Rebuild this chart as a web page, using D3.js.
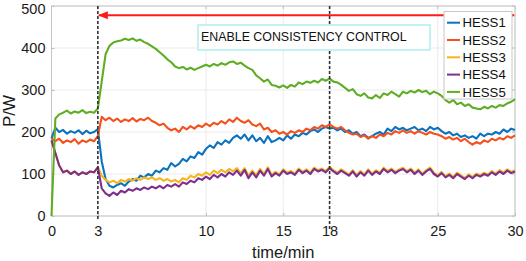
<!DOCTYPE html>
<html><head><meta charset="utf-8">
<script src="https://cdn.jsdelivr.net/npm/d3@7"></script>
<style>
html,body{margin:0;padding:0;background:#fff;}
svg{display:block;font-family:"Liberation Sans",Arial,sans-serif;}
</style></head>
<body><svg id="c" width="526" height="261"></svg>
<script>
// ---- data ----
const tStep = 0.25; // minutes between samples, t = 0 ... 30
const seriesNames = ["HESS1","HESS2","HESS3","HESS4","HESS5"];
const seriesColors = ["#0b72bf","#f4511c","#f6b51a","#7e2f8e","#5ead22"];
const hess1 = [185,210,200,205,196,202,198,204,195,203,197,200,207,
130,88,72,68,74,78,72,82,88,84,
96,92,100,96,108,104,114,110,126,118,
124,136,130,142,138,152,146,160,168,162,
176,170,180,174,186,192,184,194,180,192,
178,186,174,190,176,180,186,180,192,184,
194,190,198,194,202,206,200,208,212,208,
210,204,208,200,204,196,200,190,194,186,
190,196,200,194,208,202,212,206,210,204,
208,212,204,208,202,212,206,210,202,196,
200,192,196,188,192,186,190,184,196,190,
196,194,200,196,206,200,208,205];
const hess2 = [185,178,184,174,180,176,183,172,180,176,182,178,190,
236,228,234,226,232,224,230,226,233,225,
231,228,234,226,222,216,220,210,204,208,
200,212,206,214,208,216,212,220,214,222,
218,226,220,230,224,234,226,222,228,218,
214,220,206,210,200,204,196,200,194,202,
198,204,200,208,204,212,208,216,212,218,
212,208,212,204,198,194,196,188,192,184,
190,186,194,190,198,194,202,198,204,198,
202,196,202,198,194,200,196,194,190,184,
188,182,186,178,184,176,170,176,172,180,
176,184,180,186,182,190,186,192];
const hess3 = [180,150,120,104,108,100,106,98,104,100,106,104,116,
96,86,80,84,78,86,82,88,84,90,
86,92,88,92,86,90,84,88,82,86,
80,90,86,96,92,100,96,104,98,108,
102,110,104,112,106,114,102,114,96,108,
98,112,100,116,98,
105,99,111,103,107,101,113,105,111,103,115,109,113,107,117,109,103,111,105,99,
109,97,107,99,111,101,109,103,115,107,113,105,111,115,107,113,103,111,101,109,
115,103,97,105,95,101,93,103,97,91,99,93,101,97,103,99,107,101,109,103,111,105,109];
const hess4 = [180,150,120,104,108,100,106,98,104,100,106,104,116,
66,54,48,56,50,60,56,64,60,66,
62,68,64,70,66,72,66,74,70,76,
70,80,76,84,80,90,86,94,88,98,
92,100,94,104,98,108,96,110,90,104,
92,108,96,112,94,
102,96,108,100,104,98,110,102,108,100,112,106,110,104,114,106,100,108,102,96,
106,94,104,96,108,98,106,100,112,104,110,102,108,112,104,110,100,108,98,106,
112,100,94,102,92,98,90,100,94,88,96,90,98,94,100,96,104,98,106,100,108,102,106];
const hess5 = [0,232,242,246,251,244,249,246,252,245,248,246,256,
320,385,405,413,416,418,422,419,423,417,
420,414,410,404,398,390,382,373,366,356,
352,355,349,353,348,352,356,360,356,362,
358,364,360,366,368,362,365,358,352,348,
335,328,320,325,312,310,306,311,305,312,
308,318,314,320,317,322,318,326,322,327,
320,318,312,305,298,302,290,286,292,282,
280,288,281,292,288,296,290,284,296,292,
298,294,300,295,298,290,296,292,286,276,
270,276,266,270,262,266,258,256,254,260,
256,262,258,264,262,268,272,278];
const xTicks = [0,3,10,15,18,25,30];
const yTicks = [0,100,200,300,400,500];
const markerTimes = [3,18];
const controlSpan = [3,30];
const controlLevel = 478;
const annotation = "ENABLE CONSISTENCY CONTROL";
const xLabel = "time/min", yLabel = "P/W";

// ---- drawing ----
const allSeries = [hess1,hess2,hess3,hess4,hess5];
const svg = d3.select("#c");
const L=51.5, R=515, T=6, B=216;
const x = d3.scaleLinear().domain([0,30]).range([L,R]);
const y = d3.scaleLinear().domain([0,500]).range([B,T]);

// grid
svg.append("g").selectAll("line").data(xTicks).join("line")
  .attr("x1",d=>x(d)).attr("x2",d=>x(d)).attr("y1",T).attr("y2",B)
  .attr("stroke","#ebebeb").attr("stroke-width",1);
svg.append("g").selectAll("line").data(yTicks).join("line")
  .attr("x1",L).attr("x2",R).attr("y1",d=>y(d)).attr("y2",d=>y(d))
  .attr("stroke","#ebebeb").attr("stroke-width",1);

// axes
const gx = svg.append("g").attr("transform",`translate(0,${B})`)
  .call(d3.axisBottom(x).tickValues(xTicks).tickSize(-3).tickPadding(10).tickFormat(d3.format("d")));
const gy = svg.append("g").attr("transform",`translate(${L},0)`)
  .call(d3.axisLeft(y).tickValues(yTicks).tickSize(-3).tickPadding(6).tickFormat(d3.format("d")));
[gx,gy].forEach(g=>{
  g.select(".domain").remove();
  g.selectAll(".tick line").attr("stroke","#bdbdbd");
  g.selectAll(".tick text").attr("font-size","14.5px").attr("fill","#1a1a1a")
   .attr("font-family","'Liberation Sans',Arial,sans-serif");
});
gy.selectAll(".tick text").filter(d=>d===500).attr("dy","0.5em");
// top/right ticks
svg.append("g").selectAll("line").data(xTicks).join("line")
  .attr("x1",d=>x(d)).attr("x2",d=>x(d)).attr("y1",T).attr("y2",T+3).attr("stroke","#bdbdbd");
svg.append("g").selectAll("line").data(yTicks).join("line")
  .attr("x1",R-3).attr("x2",R).attr("y1",d=>y(d)).attr("y2",d=>y(d)).attr("stroke","#bdbdbd");
// frame
svg.append("rect").attr("x",L).attr("y",T).attr("width",R-L).attr("height",B-T)
  .attr("fill","none").attr("stroke","#c4c4c4").attr("stroke-width",1);

// lines
const line = d3.line().x((d,i)=>x(i*tStep)).y(d=>y(d));
svg.append("g").selectAll("path").data(allSeries).join("path")
  .attr("d",d=>line(d)).attr("fill","none")
  .attr("stroke",(d,i)=>seriesColors[i]).attr("stroke-width",2.1)
  .attr("stroke-linejoin","round");

// dashed markers
svg.append("g").selectAll("line").data(markerTimes).join("line")
  .attr("x1",d=>x(d)).attr("x2",d=>x(d)).attr("y1",T)
  .attr("y2",(d,i)=> i===0 ? B+5 : B+14)
  .attr("stroke","#333").attr("stroke-width",1.6).attr("stroke-dasharray","3,2");

// red double arrow
const defs = svg.append("defs");
defs.append("marker").attr("id","ah").attr("viewBox","0 0 10 10").attr("refX",9).attr("refY",5)
  .attr("markerWidth",5).attr("markerHeight",5).attr("orient","auto-start-reverse")
  .append("path").attr("d","M0,1 L10,5 L0,9 z").attr("fill","#ff1a1a");
svg.append("line").attr("x1",x(controlSpan[0])+1).attr("x2",x(controlSpan[1])-1)
  .attr("y1",y(controlLevel)).attr("y2",y(controlLevel))
  .attr("stroke","#ff1a1a").attr("stroke-width",2)
  .attr("marker-start","url(#ah)").attr("marker-end","url(#ah)");

// annotation box
svg.append("rect").attr("x",198).attr("y",25).attr("width",232).attr("height",25)
  .attr("fill","#fff").attr("stroke","#aeeeee").attr("stroke-width",1.5);
svg.append("text").attr("x",201).attr("y",40.5).attr("font-size","12.4px").attr("fill","#111")
  .text(annotation);

// legend
const lg = svg.append("g");
lg.append("rect").attr("x",444).attr("y",11.5).attr("width",68).attr("height",87.5)
  .attr("fill","#fff").attr("stroke","#c8c8c8").attr("stroke-width",1);
const rows = lg.selectAll("g").data(seriesNames).join("g")
  .attr("transform",(d,i)=>`translate(0,${22.7+i*17.3})`);
rows.append("line").attr("x1",447).attr("x2",460).attr("y1",0).attr("y2",0)
  .attr("stroke",(d,i)=>seriesColors[i]).attr("stroke-width",2);
rows.append("text").attr("x",462.5).attr("y",4.7).attr("font-size","13.2px").attr("fill","#111").text(d=>d);

// axis labels
svg.append("text").attr("x",x(15)).attr("y",258).attr("text-anchor","middle")
  .attr("font-size","16.5px").attr("fill","#1a1a1a").text(xLabel);
svg.append("text").attr("transform",`translate(15,${(T+B)/2}) rotate(-90)`)
  .attr("text-anchor","middle").attr("font-size","17px").attr("fill","#1a1a1a").text(yLabel);
</script></body></html>
